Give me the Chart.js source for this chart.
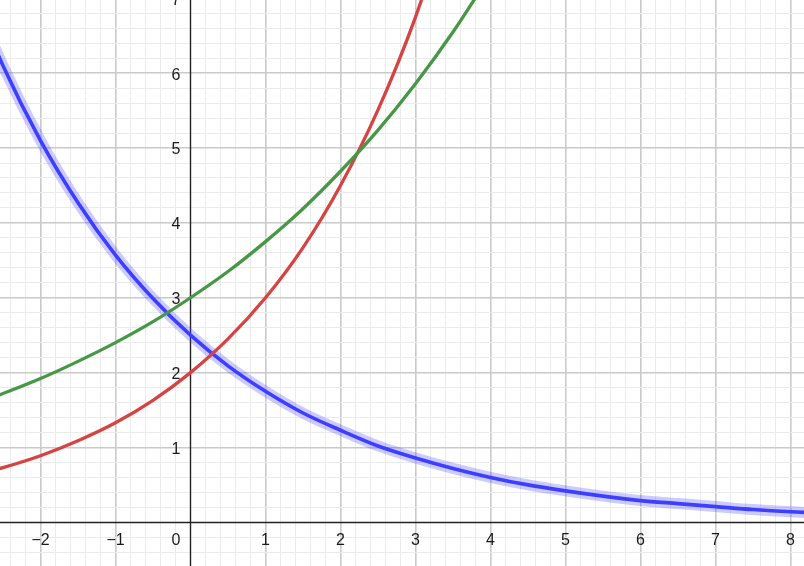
<!DOCTYPE html>
<html><head><meta charset="utf-8">
<script src="https://cdn.jsdelivr.net/npm/chart.js@4.4.1/dist/chart.umd.min.js"></script>
<style>html,body{margin:0;padding:0;background:#fff}#w{width:804px;height:566px;position:relative}</style>
</head><body><div id="w"><canvas id="c" width="804" height="566"></canvas></div>
<script>
// Values
const redX   = [-3, -2.5, -2, -1.5, -1, -0.5, 0, 0.5, 1, 1.5, 2, 2.5, 3, 3.5];
const redY   = [0.59, 0.73, 0.89, 1.09, 1.33, 1.63, 2.0, 2.45, 3.0, 3.67, 4.5, 5.51, 6.75, 8.27];
const greenX = [-3, -2.5, -2, -1.5, -1, -0.5, 0, 0.5, 1, 1.5, 2, 2.5, 3, 3.5, 4];
const greenY = [1.54, 1.72, 1.92, 2.15, 2.4, 2.68, 3.0, 3.35, 3.75, 4.19, 4.69, 5.24, 5.86, 6.55, 7.32];
const blueX  = [-3, -2.5, -2, -1.5, -1, -0.5, 0, 0.5, 1, 1.5, 2, 2.5, 3, 3.5, 4, 4.5, 5, 5.5, 6, 6.5, 7, 7.5, 8, 8.5];
const blueY  = [7.29, 6.10, 5.10, 4.27, 3.57, 2.99, 2.5, 2.09, 1.75, 1.46, 1.23, 1.02, 0.86, 0.72, 0.60, 0.50, 0.42, 0.35, 0.29, 0.25, 0.21, 0.17, 0.14, 0.12];

const xTickValues = [-2, -1, 1, 2, 3, 4, 5, 6, 7, 8];
const xTickLabels = ['\u22122', '\u22121', '1', '2', '3', '4', '5', '6', '7', '8'];
const yTickValues = [1, 2, 3, 4, 5, 6, 7];
const yTickLabels = ['1', '2', '3', '4', '5', '6', '7'];
const originLabel = '0';

const pts = (xa, ya) => xa.map((x, i) => ({x: x, y: ya[i]}));

const isMajor = v => Math.abs(v - Math.round(v)) < 1e-6;
const gridColor = ctx => {
  const v = ctx.tick ? ctx.tick.value : 0;
  if (Math.abs(v) < 1e-6) return 'rgba(0,0,0,0)';
  return isMajor(v) ? '#cacaca' : '#ebebeb';
};
const gridWidth = ctx => {
  const v = ctx.tick ? ctx.tick.value : 0;
  return isMajor(v) ? 1.6 : 1;
};

const axesPlugin = {
  id: 'axesPlugin',
  beforeDatasetsDraw(chart) {
    const {ctx, chartArea: a, scales: {x, y}} = chart;
    const px0 = Math.round(x.getPixelForValue(0) - 0.5) + 0.5;
    const py0 = Math.round(y.getPixelForValue(0) - 0.5) + 0.5;
    ctx.save();
    ctx.strokeStyle = '#222';
    ctx.lineWidth = 1.4;
    ctx.beginPath();
    ctx.moveTo(a.left, py0); ctx.lineTo(a.right, py0);
    ctx.moveTo(px0, a.top); ctx.lineTo(px0, a.bottom);
    ctx.stroke();
    ctx.fillStyle = '#1a1a1a';
    ctx.font = '16px "Liberation Sans", Arial, sans-serif';
    ctx.textAlign = 'center';
    ctx.textBaseline = 'middle';
    xTickValues.forEach((v, i) => {
      ctx.fillText(xTickLabels[i], x.getPixelForValue(v), py0 + 18.5);
    });
    ctx.textAlign = 'right';
    yTickValues.forEach((v, i) => {
      ctx.fillText(yTickLabels[i], px0 - 10, y.getPixelForValue(v) + 2);
    });
    ctx.fillText(originLabel, px0 - 10, py0 + 18.5);
    ctx.restore();
  }
};

const U = 75, YU = 74.85;
const xMin = -190.5 / U, xMax = xMin + 804 / U;
const yMax = 522.3 / YU, yMin = yMax - 566 / YU;

new Chart(document.getElementById('c'), {
  type: 'scatter',
  data: {
    datasets: [
      {data: pts(greenX, greenY), showLine: true, borderColor: '#479747', borderWidth: 3.3, pointRadius: 0, cubicInterpolationMode: 'monotone', fill: false},
      {data: pts(redX, redY), showLine: true, borderColor: '#d64343', borderWidth: 3.3, pointRadius: 0, cubicInterpolationMode: 'monotone', fill: false},
      {data: pts(blueX, blueY), showLine: true, borderColor: 'rgba(70,70,255,0.28)', borderWidth: 11, pointRadius: 0, cubicInterpolationMode: 'monotone', fill: false},
      {data: pts(blueX, blueY), showLine: true, borderColor: '#3c3cff', borderWidth: 3.6, pointRadius: 0, cubicInterpolationMode: 'monotone', fill: false}
    ]
  },
  options: {
    responsive: false,
    animation: false,
    events: [],
    layout: {padding: 0},
    plugins: {legend: {display: false}, tooltip: {enabled: false}, title: {display: false}},
    scales: {
      x: {
        type: 'linear', min: xMin, max: xMax,
        ticks: {display: false, stepSize: 0.2, includeBounds: false},
        grid: {color: gridColor, lineWidth: gridWidth, drawTicks: false, tickLength: 0},
        border: {display: false}
      },
      y: {
        type: 'linear', min: yMin, max: yMax,
        ticks: {display: false, stepSize: 0.2, includeBounds: false},
        grid: {color: gridColor, lineWidth: gridWidth, drawTicks: false, tickLength: 0},
        border: {display: false}
      }
    }
  },
  plugins: [axesPlugin]
});
</script>
</body></html>
